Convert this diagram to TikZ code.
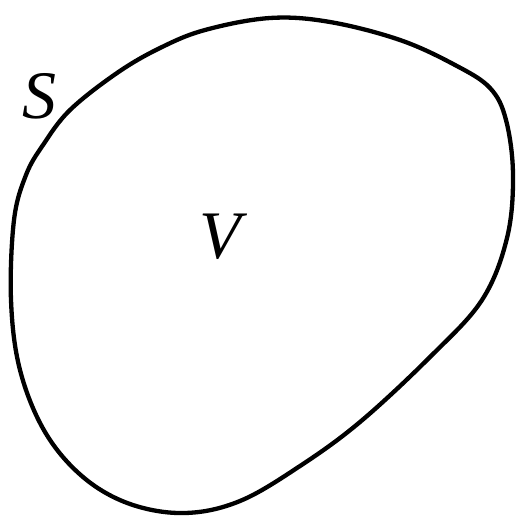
\documentclass[tikz,border=0pt]{standalone}
\usepackage{fontspec}
\setmainfont{Liberation Serif}
\begin{document}
\begin{tikzpicture}[x=1pt,y=-1pt,
  outline/.style={line width=4.3pt,line join=round},
  lbl/.style={font=\fontsize{68}{70}\selectfont\itshape,inner sep=0pt}]
\useasboundingbox (0,0) rectangle (518,519);
\draw[outline] plot[smooth cycle,tension=0.6] coordinates {
 (117,73) (160,48) (205,30) (270,18) (330,22) (400,40) (455,65) (490,88)
 (506,120) (513,175) (507,238) (482,300) (430,357) (360,422)
 (300,466) (240,501) (185,513) (130,504) (83,477) (45,432) (20,370)
 (11,300) (14,220) (26,175) (43,145) (70,110)};
\node[lbl] (S) at (39,96) {S};
\node[lbl] (V) at (220,237) {V};
\end{tikzpicture}
\end{document}
